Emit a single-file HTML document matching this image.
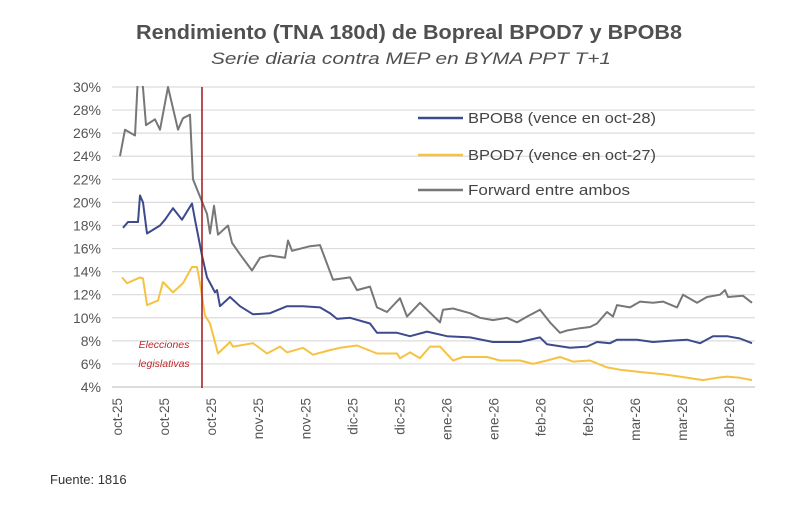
<!DOCTYPE html>
<html><head><meta charset="utf-8"><style>
body{margin:0;background:#fff;width:800px;height:511px;overflow:hidden;font-family:"Liberation Sans",sans-serif}
</style></head><body>
<svg id="chart" width="800" height="511" xmlns="http://www.w3.org/2000/svg">
<text x="409" y="39" text-anchor="middle" font-size="20.5" font-weight="bold" fill="#505050" textLength="546" lengthAdjust="spacingAndGlyphs">Rendimiento (TNA 180d) de Bopreal BPOD7 y BPOB8</text>
<text x="411" y="64" text-anchor="middle" font-size="17" font-style="italic" fill="#505050" textLength="400" lengthAdjust="spacingAndGlyphs">Serie diaria contra MEP en BYMA PPT T+1</text>
<text x="50" y="484" font-size="13" fill="#333">Fuente: 1816</text>
<defs><clipPath id="plotclip"><rect x="110" y="86" width="650" height="302"/></clipPath></defs>
<g id="grid"></g><g id="yaxis"></g><g id="xaxis"></g><g id="series" clip-path="url(#plotclip)"></g>
<line x1="202" y1="87" x2="202" y2="388" stroke="#a01818" stroke-width="1.5"/>
<text x="164" y="348" text-anchor="middle" font-size="10.5" font-style="italic" fill="#c0282b">Elecciones</text>
<text x="164" y="367" text-anchor="middle" font-size="10.5" font-style="italic" fill="#c0282b">legislativas</text>
<g>
<line x1="418" y1="118" x2="463" y2="118" stroke="#3d4a8c" stroke-width="2.5"/>
<text x="468" y="123" font-size="15" fill="#444" textLength="188" lengthAdjust="spacingAndGlyphs">BPOB8 (vence en oct-28)</text>
<line x1="418" y1="155" x2="463" y2="155" stroke="#f5c243" stroke-width="2.5"/>
<text x="468" y="160" font-size="15" fill="#444" textLength="188" lengthAdjust="spacingAndGlyphs">BPOD7 (vence en oct-27)</text>
<line x1="418" y1="190" x2="463" y2="190" stroke="#777" stroke-width="2.5"/>
<text x="468" y="195" font-size="15" fill="#444" textLength="162" lengthAdjust="spacingAndGlyphs">Forward entre ambos</text>
</g>
</svg>
<script>
const yTicks=[4,6,8,10,12,14,16,18,20,22,24,26,28,30];
const xLabels=["oct-25","oct-25","oct-25","nov-25","nov-25","dic-25","dic-25","ene-26","ene-26","feb-26","feb-26","mar-26","mar-26","abr-26"];
const fwdT=[0,5,15,18,22,26,35,40,48,58,63,70,73,80,87,90,94,98,108,112,120,132,140,150,165,168,172,190,200,213,230,237,250,257,267,280,287,300,320,323,333,350,360,373,387,397,407,420,430,440,447,460,470,477,487,493,497,510,520,533,543,557,563,577,587,600,605,608,623,632];
const fwdV=[24,26.3,25.8,31,31,26.7,27.2,26.3,30,26.3,27.3,27.6,22,20.5,19,17.3,19.7,17.2,18,16.5,15.5,14.1,15.2,15.4,15.2,16.7,15.8,16.2,16.3,13.3,13.5,12.4,12.7,10.9,10.5,11.7,10.1,11.3,9.6,10.7,10.8,10.4,10.0,9.8,10.0,9.6,10.1,10.7,9.6,8.7,8.9,9.1,9.2,9.5,10.5,10.1,11.1,10.9,11.4,11.3,11.4,10.9,12.0,11.3,11.8,12.0,12.4,11.8,11.9,11.3];
const bpobT=[3,8,18,20,23,27,40,45,53,62,72,75,82,87,92,95,97,100,110,120,133,150,167,183,200,210,217,230,250,257,277,290,307,327,350,373,400,420,427,450,467,477,490,497,517,533,550,567,580,593,607,620,632];
const bpobV=[17.8,18.3,18.3,20.6,20,17.3,18.0,18.5,19.5,18.5,19.9,18.5,15.4,13.5,12.7,12.2,12.4,11.0,11.8,11.0,10.3,10.4,11.0,11.0,10.9,10.4,9.9,10.0,9.5,8.7,8.7,8.4,8.8,8.4,8.3,7.9,7.9,8.3,7.7,7.4,7.5,7.9,7.8,8.1,8.1,7.9,8.0,8.1,7.8,8.4,8.4,8.2,7.8];
const bpodT=[2,7,20,23,27,38,43,53,63,72,77,80,85,90,98,110,113,133,147,160,167,183,193,210,220,237,257,277,280,290,300,310,320,333,343,367,380,400,413,427,440,453,470,487,500,520,543,560,583,597,607,620,632];
const bpodV=[13.5,13.0,13.5,13.4,11.1,11.5,13.1,12.2,13.0,14.4,14.4,13.0,10.2,9.5,6.9,7.9,7.5,7.8,6.9,7.5,7.0,7.4,6.8,7.2,7.4,7.6,6.9,6.9,6.5,7.0,6.5,7.5,7.5,6.3,6.6,6.6,6.3,6.3,6.0,6.3,6.6,6.2,6.3,5.7,5.5,5.3,5.1,4.9,4.6,4.8,4.9,4.8,4.6];
const NS="http://www.w3.org/2000/svg";
const X0=120,X1=752,TMAX=632,Y0=387,Y1=87,VMIN=4,VMAX=30;
function xs(t){return X0+(t/TMAX)*(X1-X0);}
function ys(v){return Y0-(v-VMIN)/(VMAX-VMIN)*(Y0-Y1);}
function mk(tag,attrs,parent){const e=document.createElementNS(NS,tag);for(const k in attrs)e.setAttribute(k,attrs[k]);parent.appendChild(e);return e;}
const grid=document.getElementById('grid'),ya=document.getElementById('yaxis'),xa=document.getElementById('xaxis'),ser=document.getElementById('series');
yTicks.forEach(v=>{
  const l=mk('line',{x1:112,x2:755,y1:ys(v),y2:ys(v),stroke:v===4?'#c8c8c8':'#dcdcdc','stroke-width':1.2},grid);
  
  
  const t=mk('text',{x:101,y:ys(v)+5,'text-anchor':'end','font-size':14,fill:'#555'},ya);
  t.textContent=v+'%';
  
  
});
xLabels.forEach((s,i)=>{
  const x=117+i*(729-117)/(xLabels.length-1);
  const t=mk('text',{x:0,y:0,'text-anchor':'end','font-size':13.5,fill:'#555',transform:`translate(${x+5},398) rotate(-90)`},xa);
  t.textContent=s;
  
  
});
function line(T,V,color,name){
  const d=T.map((t,i)=>(i?'L':'M')+xs(t).toFixed(1)+','+ys(V[i]).toFixed(1)).join('');
  const p=mk('path',{d:d,fill:'none',stroke:color,'stroke-width':2,'stroke-linejoin':'round'},ser);
  
  
}
line(fwdT,fwdV,'#777777','series-forward');
line(bpodT,bpodV,'#f5c243','series-bpod7');
line(bpobT,bpobV,'#3d4a8c','series-bpob8');
</script>
</body></html>
